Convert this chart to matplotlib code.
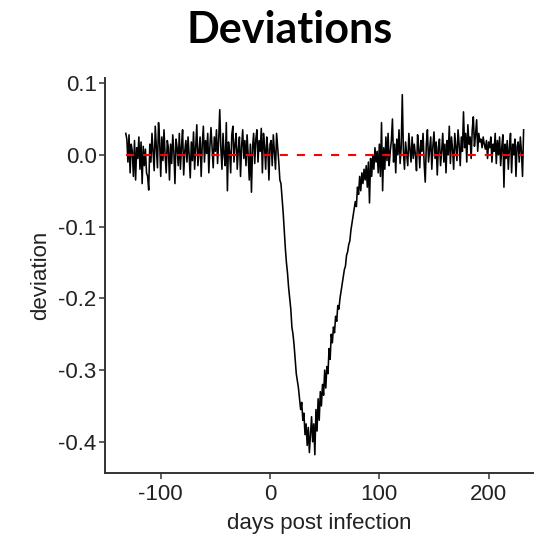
import numpy as np
import matplotlib
matplotlib.use("Agg")
import matplotlib.pyplot as plt

# deviation values, one per day
pre_days = np.arange(-132, 1)
pre_dev = [
    .030, .022, -.010, .028, -.025, .015, .005, -.030, .020, -.035, .010, -.005, .025, -.020, .018, -.040, .012, -.015, .008, -.025,
    -.030, -.049, .015, -.010, .030, .005, -.022, .040, .010, -.018, .045, .020, -.030, .025, -.008, .035, .000, -.025, .020, .010,
    -.035, .015, -.012, .028, .005, -.040, .022, .010, -.015, .030, -.020, .012, .035, -.028, .005, .020, -.010, .025, .000, -.032,
    .018, -.008, .032, -.020, .010, .042, -.015, .005, .025, -.030, .015, .040, -.010, .020, .002, .030, -.025, .012, .038, .010,
    -.018, .025, .005, .035, -.012, .020, .063, .010, -.020, .030, .000, -.015, .045, -.050, .018, .005, -.025, .028, .040, -.010,
    .015, .030, -.020, .008, .025, -.030, .012, .035, -.005, .020, -.015, .028, .000, -.035, .015, -.052, .010, .030, -.012, .022,
    .035, -.010, .020, .005, .037, -.025, .030, .012, -.020, .025, .008, -.035, .015,
]

dip_days = np.arange(1, 99)
dip_dev = [
    .020, -.015, .028, .005, -.020, .030, .010, -.010, -.035, -.040,
    -.060, -.080, -.105, -.130, -.150, -.165, -.185, -.200, -.215, -.240,
    -.250, -.265, -.285, -.305, -.315, -.325, -.340, -.355, -.345, -.370,
    -.360, -.390, -.375, -.405, -.380, -.415, -.390, -.365, -.400, -.375,
    -.418, -.355, -.385, -.340, -.370, -.330, -.350, -.320, -.335, -.300,
    -.325, -.295, -.305, -.270, -.285, -.250, -.262, -.240, -.248, -.225,
    -.232, -.210, -.215, -.200, -.190, -.180, -.170, -.160, -.155, -.140,
    -.135, -.125, -.120, -.105, -.095, -.085, -.075, -.065, -.072, -.045,
    -.055, -.030, -.050, -.025, -.040, -.020, -.035, -.015, -.045, -.010,
    -.067, -.005, -.030, .000, -.020, .010, -.010, .005,
]

post_days = np.arange(99, 233)
post_dev = [
    -.025, .015, -.030, .045, -.050, .010, -.020, .025, -.008, .030, -.015, .005, .020, .050, -.010, .015, -.025, .022, .000, .035,
    -.012, .010, .084, .005, -.020, .018, .002, -.015, .030, .008, -.010, .025, -.005, .015, .000, -.022, .028, .010, -.018, .020,
    .005, .030, -.012, -.038, .015, .035, -.010, .008, .025, -.020, .012, .032, -.005, .018, -.028, .010, .022, -.015, .005, .030,
    -.010, .015, -.025, .020, .000, .040, -.012, .025, .008, -.020, .030, .010, -.008, .035, .015, -.015, .025, .005, .060, .010,
    .030, -.010, .042, .015, .025, -.005, .035, .053, .012, .028, .049, .005, .030, .018, .022, .010, .025, .015, .008, .020,
    -.005, .018, .010, .025, -.010, .015, .005, .030, -.012, .020, .000, .025, -.015, .010, .028, -.045, .015, -.005, .020, -.020,
    .010, .030, -.025, .015, .000, .022, -.030, .012, .018, -.010, .025, .005, -.030, .035,
]

x_ticks = [-100, 0, 100, 200]
y_ticks = [0.1, 0.0, -0.1, -0.2, -0.3, -0.4]

days = np.concatenate([pre_days, dip_days, post_days])
deviation = np.array(pre_dev + dip_dev + post_dev)
assert len(days) == len(deviation)

plt.rcParams['font.family'] = ['Liberation Sans', 'DejaVu Sans']
plt.rcParams['axes.unicode_minus'] = False

fig = plt.figure(figsize=(5.34, 5.34), dpi=100)
ax = fig.add_axes([0.1966, 0.1142, 0.8034, 0.740])

# deviation line with the zero reference drawn on top
ax.plot(days, deviation, color='black', linewidth=1.15, zorder=2)
ax.plot([days.min(), days.max()], [0, 0], color='#ff0000', linewidth=1.5,
        dashes=(3.9, 4.3), zorder=3)

ax.set_xlim(-151, 241.5)
ax.set_ylim(-0.4435, 0.1074)
ax.set_xticks(x_ticks)
ax.set_yticks(y_ticks)
ax.set_yticklabels([f"{v:.1f}" for v in y_ticks])

for side in ['top', 'right']:
    ax.spines[side].set_visible(False)
for side in ['left', 'bottom']:
    ax.spines[side].set_linewidth(1.4)
    ax.spines[side].set_color('#333333')
ax.tick_params(axis='y', length=4, width=1.1, color='#333333',
               labelsize=16, labelcolor='#222222', pad=2)
ax.tick_params(axis='x', length=4, width=1.1, color='#333333',
               labelsize=16, labelcolor='#222222', pad=4)

ax.set_xlabel('days post infection', fontsize=16, color='#222222', labelpad=6)
ax.set_ylabel('deviation', fontsize=16, color='#222222', labelpad=5)

fig.text(0.542, 0.943, 'Deviations', ha='center', va='center',
         fontsize=31, fontweight='bold', family=['Lato', 'DejaVu Sans'])

fig.savefig('out.png', dpi=100)
